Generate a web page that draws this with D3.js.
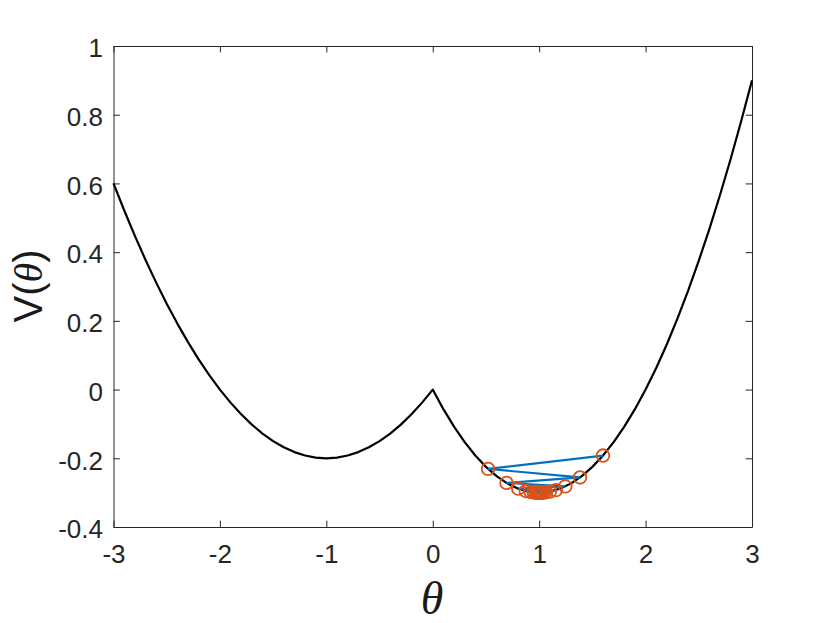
<!DOCTYPE html>
<html><head><meta charset="utf-8">
<script src="https://cdn.jsdelivr.net/npm/d3@7"></script>
<style>body{margin:0;background:#fff}svg{display:block}</style>
</head><body>
<script>
// Curve V(theta)
const curveTheta = [-3,-2.9,-2.8,-2.7,-2.6,-2.5,-2.4,-2.3,-2.2,-2.1,-2,-1.9,-1.8,-1.7,-1.6,-1.5,-1.4,-1.3,-1.2,-1.1,-1,-0.9,-0.8,-0.7,-0.6,-0.5,-0.4,-0.3,-0.2,-0.1,0,0.1,0.2,0.3,0.4,0.5,0.6,0.7,0.8,0.9,1,1.1,1.2,1.3,1.4,1.5,1.6,1.7,1.8,1.9,2,2.1,2.2,2.3,2.4,2.5,2.6,2.7,2.8,2.9,3];
const curveV = [0.6,0.522,0.448,0.378,0.312,0.25,0.192,0.138,0.088,0.042,0,-0.038,-0.072,-0.102,-0.128,-0.15,-0.168,-0.182,-0.192,-0.198,-0.2,-0.198,-0.192,-0.182,-0.168,-0.15,-0.128,-0.102,-0.072,-0.038,0,-0.057,-0.108,-0.153,-0.192,-0.225,-0.252,-0.273,-0.288,-0.297,-0.3,-0.297,-0.288,-0.273,-0.252,-0.225,-0.192,-0.153,-0.108,-0.057,0,0.063,0.132,0.207,0.288,0.375,0.468,0.567,0.672,0.783,0.9];
// Iterates (orange circles joined by blue line)
const iterTheta = [1.6,0.52,1.384,0.6928,1.2458,0.8034,1.1573,0.8742,1.1007,0.9195,1.0644,0.9485,1.0412,0.967,1.0264,0.9789,1.0169,0.9865,1.0108,0.9914,1.0069,0.9945,1.0044,0.9965,1.0028,0.9977];
const iterV = [-0.192,-0.2309,-0.2558,-0.2717,-0.2819,-0.2884,-0.2926,-0.2953,-0.297,-0.2981,-0.2988,-0.2992,-0.2995,-0.2997,-0.2998,-0.2999,-0.2999,-0.2999,-0.3,-0.3,-0.3,-0.3,-0.3,-0.3,-0.3,-0.3];
const xTicks = [-3,-2,-1,0,1,2,3];
const yTicks = [-0.4,-0.2,0,0.2,0.4,0.6,0.8,1];

const W=830,H=623, L=113.5, T=46, R=752, B=527;
const svg=d3.select("body").append("svg").attr("width",W).attr("height",H);
const x=d3.scaleLinear().domain([-3,3]).range([L,R]);
const y=d3.scaleLinear().domain([-0.4,1]).range([B,T]);
const axisCol="#262626", font="'Liberation Sans', Arial, Helvetica, sans-serif";
const serif="'Liberation Serif','Times New Roman',serif";

const fmt = d=> d===0?"0":String(d);
const tl=6.4;
const gx=svg.append("g").attr("transform",`translate(0,${B})`).call(d3.axisBottom(x).tickValues(xTicks).tickFormat(fmt).tickSizeInner(-tl).tickSizeOuter(0).tickPadding(18));
const gxt=svg.append("g").attr("transform",`translate(0,${T})`).call(d3.axisTop(x).tickValues(xTicks).tickFormat("").tickSizeInner(-tl).tickSizeOuter(0));
const gy=svg.append("g").attr("transform",`translate(${L},0)`).call(d3.axisLeft(y).tickValues(yTicks).tickFormat(fmt).tickSizeInner(-tl).tickSizeOuter(0).tickPadding(10.5));
const gyr=svg.append("g").attr("transform",`translate(${R},0)`).call(d3.axisRight(y).tickValues(yTicks).tickFormat("").tickSizeInner(-tl).tickSizeOuter(0));
[gx,gxt,gy,gyr].forEach(g=>{
  g.selectAll("path").attr("stroke",axisCol).attr("stroke-width",1);
  g.selectAll("line").attr("stroke",axisCol).attr("stroke-width",1);
  g.selectAll("text").attr("fill",axisCol).style("font-family",font).style("font-size","26px");
});
gy.selectAll("text").attr("y",2.5);

const line=d3.line().x(d=>x(d[0])).y(d=>y(d[1]));
svg.append("path").datum(curveTheta.map((t,i)=>[t,curveV[i]]))
  .attr("d",line).attr("fill","none").attr("stroke","#000").attr("stroke-width",2.2).attr("stroke-linejoin","round");
const iters=iterTheta.map((t,i)=>[t,iterV[i]]);
svg.append("path").datum(iters).attr("d",line).attr("fill","none").attr("stroke","#0072BD").attr("stroke-width",2.2);
svg.append("g").selectAll("circle").data(iters).join("circle")
  .attr("cx",d=>x(d[0])).attr("cy",d=>y(d[1])).attr("r",6.3)
  .attr("fill","none").attr("stroke","#D95319").attr("stroke-width",1.8);

const yl=svg.append("text").attr("transform",`translate(42,286) rotate(-90)`).attr("text-anchor","middle")
  .style("font-family",font).style("font-size","40px").attr("fill","#1a1a1a");
yl.append("tspan").text("V(");
yl.append("tspan").style("font-family",serif).style("font-style","italic").text("θ");
yl.append("tspan").text(")");
svg.append("text").attr("x",432).attr("y",614).attr("text-anchor","middle")
  .style("font-family",serif).style("font-style","italic").style("font-size","46px").attr("fill","#1a1a1a").text("θ");
</script>
</body></html>
